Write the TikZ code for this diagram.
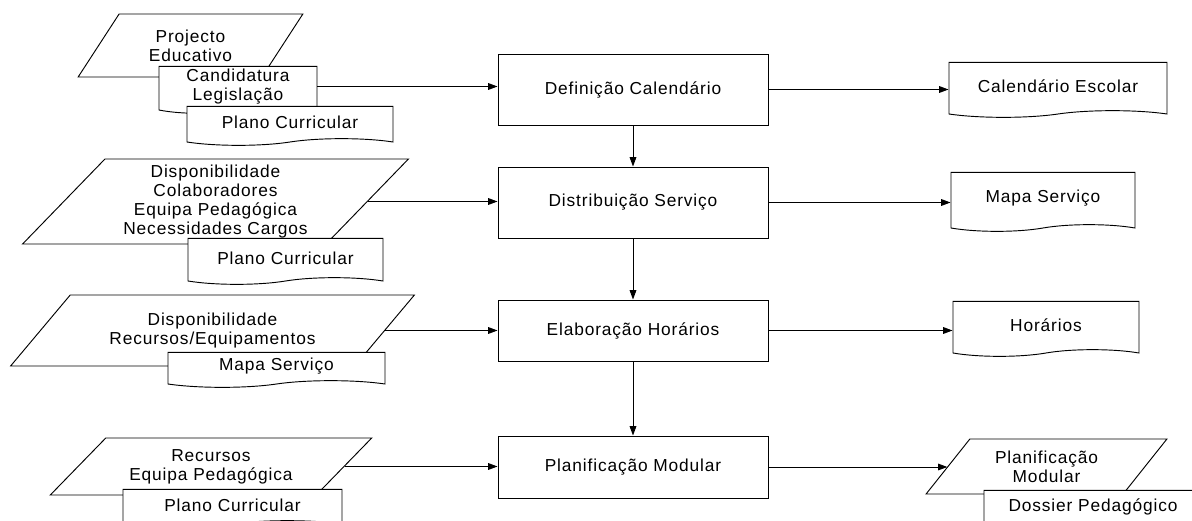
\documentclass[tikz,border=0pt]{standalone}
\usepackage{fontspec}
\setmainfont{Liberation Sans}[LetterSpace=5]
\usetikzlibrary{arrows.meta,shapes.geometric,shapes.symbols}

\begin{document}
\begin{tikzpicture}[
  x=0.75pt,
  y=-0.75pt,
  >={Triangle[length=7pt,width=5pt]},
  font=\fontsize{13}{14.3}\selectfont,
  proc/.style={draw,line width=0.7pt,minimum width=202.5pt,align=center,
    inner sep=2pt},
  docu/.style={shape=tape,draw,fill=white,line width=0.7pt,tape bend top=none,
    tape bend bottom=in and out,tape bend height=5pt,inner sep=1pt,
    align=center},
  dados/.style={trapezium,draw,fill=white,line width=0.7pt,
    trapezium stretches=true,inner sep=1pt,align=center},
  flow/.style={->,line width=0.7pt}
]
  \fill[white] (0,0) rectangle (1192,521);
  \clip (0,0) rectangle (1192,521);

  % processos
  \node[proc,minimum height=53.25pt] (defcal) at (633,89.5)
    {Definição Calendário};
  \node[proc,minimum height=53.25pt] (distserv) at (633,202.5)
    {Distribuição Serviço};
  \node[proc,minimum height=45.75pt] (elabhor) at (633,330.5)
    {Elaboração Horários};
  \node[proc,minimum height=46.5pt] (planmod) at (633,467)
    {Planificação Modular};

  % entradas
  \node[dados,trapezium left angle=54.5,trapezium right angle=125.5,
    minimum width=168.75pt,minimum height=47.25pt] (projed) at (190.5,45.5)
    {Projecto\\Educativo};
  \node[docu,minimum width=118.5pt,minimum height=35.25pt] (candleg)
    at (238,86.5) {Candidatura\\Legislação};
  \node[docu,minimum width=154.5pt,minimum height=29.25pt] (placur1)
    at (290,122.5) {Plano Curricular};

  \node[dados,trapezium left angle=47.5,trapezium right angle=132.5,
    minimum width=290.25pt,minimum height=63.75pt] (dispcol) at (215.5,201.5)
    {Disponibilidade\\Colaboradores\\Equipa Pedagógica\\Necessidades Cargos};
  \node[docu,minimum width=146.25pt,minimum height=34.5pt] (placur2)
    at (285.5,258) {Plano Curricular};

  \node[dados,trapezium left angle=40.9,trapezium right angle=139.1,
    minimum width=303.75pt,minimum height=53.25pt] (disprec) at (212.5,330.5)
    {Disponibilidade\\Recursos/Equipamentos};
  \node[docu,minimum width=162.75pt,minimum height=26.25pt] (mapaent)
    at (276.5,366.5) {Mapa Serviço};

  \node[dados,trapezium left angle=40.4,trapezium right angle=139.6,
    minimum width=241.5pt,minimum height=42.75pt] (recequ) at (211,466.5)
    {Recursos\\Equipa Pedagógica};
  \node[docu,minimum width=164.25pt,minimum height=28.5pt] (placur4)
    at (232.5,505) {Plano Curricular};

  % saidas
  \node[docu,minimum width=163.5pt,minimum height=41.25pt] (calesc)
    at (1058,86.5) {Calendário Escolar};
  \node[docu,minimum width=138pt,minimum height=44.25pt] (mapasai)
    at (1043,198.5) {Mapa Serviço};
  \node[docu,minimum width=139.5pt,minimum height=41.25pt] (horarios)
    at (1046,325.5) {Horários};
  \node[dados,trapezium left angle=48.8,trapezium right angle=131.2,
    minimum width=180.75pt,minimum height=41.25pt] (plansai) at (1046.5,466.5)
    {Planificação\\Modular};
  \node[docu,minimum width=163.5pt,minimum height=30pt] (dossier)
    at (1093,507) {Dossier Pedagógico};

  \draw[flow] (candleg.east) -- (candleg.east -| defcal.west);
  \draw[flow] (dispcol.east) -- (dispcol.east -| distserv.west);
  \draw[flow] (disprec.east) -- (disprec.east -| elabhor.west);
  \draw[flow] (recequ.east) -- (recequ.east -| planmod.west);

  \draw[flow] (defcal) -- (distserv);
  \draw[flow] (distserv) -- (elabhor);
  \draw[flow] (elabhor) -- (planmod);

  \draw[flow] (defcal.east) -- (defcal.east -| calesc.west);
  \draw[flow] (distserv.east) -- (distserv.east -| mapasai.west);
  \draw[flow] (elabhor.east) -- (elabhor.east -| horarios.west);
  \draw[flow] (planmod.east) -- (planmod.east -| plansai.west);
\end{tikzpicture}
\end{document}
